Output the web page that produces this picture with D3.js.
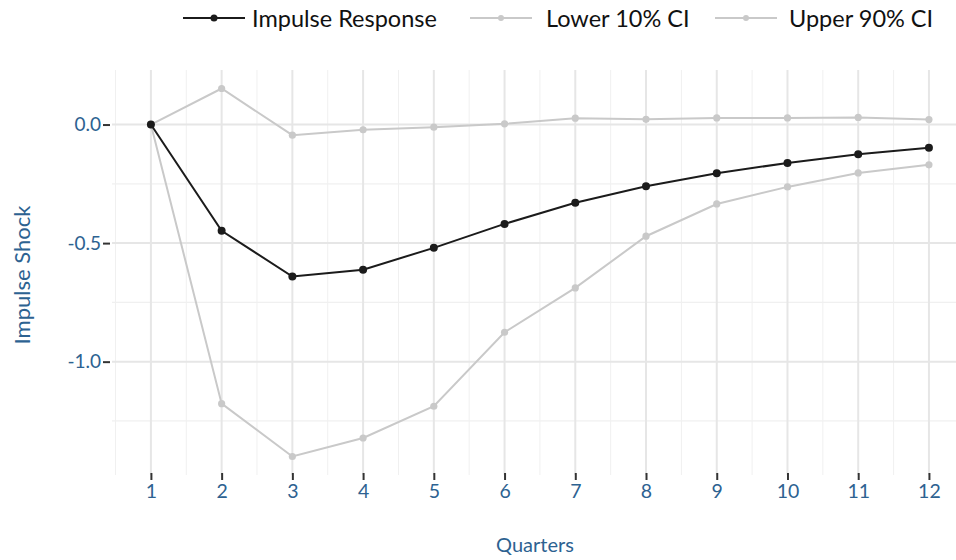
<!DOCTYPE html>
<html>
<head>
<meta charset="utf-8">
<script src="https://cdn.jsdelivr.net/npm/d3@7"></script>
<style>
  body { margin: 0; background: #fff; }
  text { font-family: Lato, "Open Sans", sans-serif; }
</style>
</head>
<body>
<div id="chart"></div>
<script>
// chart values
const quarters = [1, 2, 3, 4, 5, 6, 7, 8, 9, 10, 11, 12];
const impulse = [0, -0.448, -0.641, -0.612, -0.520, -0.419, -0.330, -0.260, -0.205, -0.162, -0.125, -0.098];
const lower10 = [0, -1.177, -1.400, -1.322, -1.188, -0.876, -0.689, -0.471, -0.335, -0.263, -0.204, -0.170];
const upper90 = [0, 0.152, -0.045, -0.022, -0.011, 0.003, 0.027, 0.022, 0.028, 0.028, 0.030, 0.021];
const yTicks = [0, -0.5, -1.0];
const seriesNames = ["Impulse Response", "Lower 10% CI", "Upper 90% CI"];

const width = 956, height = 560;
const margin = {top: 70, right: 0, bottom: 85, left: 112};
const blue = "#2d6291";
const grey = "#c9c9c9";
const dark = "#1b1b1b";

const svg = d3.select('#chart')
    .append('svg')
    .attr('width', width)
    .attr('height', height);

const x = d3.scaleLinear()
    .domain([0.45, 12.55])
    .range([margin.left, margin.left + 12.1 * 70.73]);

const yMin = -1.478, yMax = 0.23;
const y = d3.scaleLinear()
    .domain([yMin, yMax])
    .range([height - margin.bottom, margin.top]);

const grid = svg.append('g');

// minor gridlines
d3.range(0.5, 13, 1).forEach(v => {
    grid.append('line')
        .attr('x1', x(v)).attr('x2', x(v))
        .attr('y1', y(yMin)).attr('y2', y(yMax))
        .attr('stroke', '#f0f0f0').attr('stroke-width', 1);
});
[-1.25, -0.75, -0.25].forEach(v => {
    grid.append('line')
        .attr('x1', x(0.45)).attr('x2', width)
        .attr('y1', y(v)).attr('y2', y(v))
        .attr('stroke', '#f0f0f0').attr('stroke-width', 1.2);
});
// major gridlines
quarters.forEach(v => {
    grid.append('line')
        .attr('x1', x(v)).attr('x2', x(v))
        .attr('y1', y(yMin)).attr('y2', y(yMax))
        .attr('stroke', '#e6e6e6').attr('stroke-width', 2);
});
yTicks.forEach(v => {
    grid.append('line')
        .attr('x1', x(0.45)).attr('x2', width)
        .attr('y1', y(v)).attr('y2', y(v))
        .attr('stroke', '#e6e6e6').attr('stroke-width', 2);
});

// axes
const xAxis = svg.append('g')
    .attr('transform', `translate(0,${y(yMin) - 2})`)
    .call(d3.axisBottom(x).tickValues(quarters).tickSize(7).tickPadding(4).tickFormat(d3.format('d')));
xAxis.select('.domain').remove();
xAxis.selectAll('line').attr('stroke', '#333').attr('stroke-width', 2);
xAxis.selectAll('text').attr('fill', blue).style('font-size', '19.5px');

const fmtY = v => d3.format('.1f')(v).replace('\u2212', '-');
const yAxis = svg.append('g')
    .attr('transform', `translate(${x(0.45) - 2},0)`)
    .call(d3.axisLeft(y).tickValues(yTicks).tickSize(7).tickPadding(2).tickFormat(fmtY));
yAxis.select('.domain').remove();
yAxis.selectAll('line').attr('stroke', '#333').attr('stroke-width', 2);
yAxis.selectAll('text').attr('fill', blue).style('font-size', '19px');

// axis titles
svg.append('text')
    .attr('x', 535).attr('y', 552)
    .attr('text-anchor', 'middle')
    .attr('fill', blue).style('font-size', '20px')
    .text('Quarters');

svg.append('text')
    .attr('transform', 'translate(30,275) rotate(-90)')
    .attr('text-anchor', 'middle')
    .attr('fill', blue).style('font-size', '22px')
    .text('Impulse Shock');

// series lines
const line = d3.line()
    .x((d, i) => x(quarters[i]))
    .y(d => y(d));

const series = [
    {name: seriesNames[1], values: lower10, color: grey, w: 2, r: 3.6},
    {name: seriesNames[2], values: upper90, color: grey, w: 2, r: 3.6},
    {name: seriesNames[0], values: impulse, color: dark, w: 2, r: 4}
];

series.forEach(s => {
    svg.append('path')
        .datum(s.values)
        .attr('d', line)
        .attr('fill', 'none')
        .attr('stroke', s.color)
        .attr('stroke-width', s.w);
    svg.selectAll()
        .data(s.values)
        .enter()
        .append('circle')
            .attr('cx', (d, i) => x(quarters[i]))
            .attr('cy', d => y(d))
            .attr('r', s.r)
            .attr('fill', s.color);
});

// legend
const legendItems = [
    {name: seriesNames[0], color: dark, x0: 183, tx: 252, r: 3.5},
    {name: seriesNames[1], color: grey, x0: 470, tx: 546, r: 3},
    {name: seriesNames[2], color: grey, x0: 715, tx: 789, r: 3}
];
const legend = svg.append('g');
legendItems.forEach(l => {
    legend.append('line')
        .attr('x1', l.x0).attr('x2', l.x0 + 62)
        .attr('y1', 18).attr('y2', 18)
        .attr('stroke', l.color).attr('stroke-width', 2);
    legend.append('circle')
        .attr('cx', l.x0 + 31).attr('cy', 18)
        .attr('r', l.r).attr('fill', l.color);
    legend.append('text')
        .attr('x', l.tx).attr('y', 27)
        .attr('fill', '#111').style('font-size', '23.5px')
        .text(l.name);
});
</script>
</body>
</html>
